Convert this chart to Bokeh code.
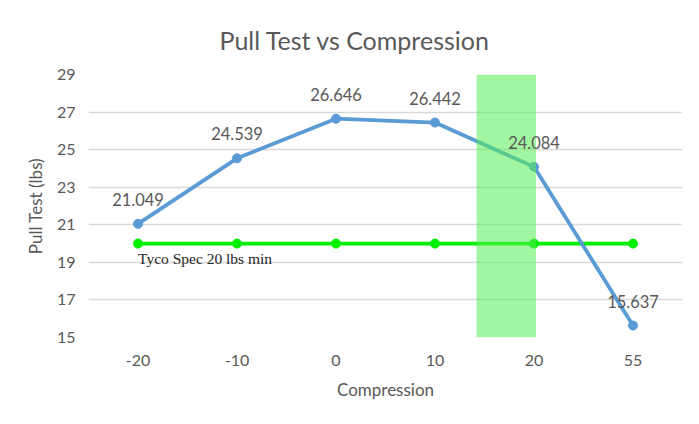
from bokeh.plotting import figure
from bokeh.models import ColumnDataSource, FixedTicker, LabelSet, Label, BoxAnnotation
from bokeh.embed import file_html
from bokeh.resources import INLINE
from bokeh.core.properties import value

categories = ["-20", "-10", "0", "10", "20", "55"]
pull_test = [21.049, 24.539, 26.646, 26.442, 24.084, 15.637]
spec_min = [20, 20, 20, 20, 20, 20]
y_ticks = [15, 17, 19, 21, 23, 25, 27, 29]
band_left = 3.42
band_right = 4.02

FONT = "Lato"
GRAY = "#595959"

xs = list(range(len(categories)))
src = ColumnDataSource(dict(x=xs, y=pull_test, spec=spec_min,
                            lbl=[f"{v:.3f}" for v in pull_test]))

p = figure(output_backend="svg", toolbar_location=None,
           x_range=(-0.5, len(categories) - 0.5), y_range=(15, 29),
           frame_width=594, frame_height=263,
           min_border_left=88, min_border_right=1, min_border_top=74, min_border_bottom=71)

p.title.text = "Pull Test vs Compression"
p.title.align = "left"
p.title.offset = 131
p.title.vertical_align = "middle"
p.title.text_font = FONT
p.title.text_font_size = "25px"
p.title.text_font_style = "normal"
p.title.text_color = GRAY
p.title.standoff = 37

p.line("x", "spec", source=src, line_color="#00ee00", line_width=3.8)
p.scatter("x", "spec", source=src, size=9, fill_color="#00ee00", line_color="#00ee00")
p.line("x", "y", source=src, line_color="#5b9bd5", line_width=3.8)
p.scatter("x", "y", source=src, size=9, fill_color="#5b9bd5", line_color="#5b9bd5")

p.add_layout(BoxAnnotation(left=band_left, right=band_right, bottom=15, top=29,
                           fill_color="#55ee55", fill_alpha=0.55, line_color=None))

p.add_layout(LabelSet(x="x", y="y", text="lbl", source=src, y_offset=18,
                      text_align="center", text_baseline="bottom",
                      text_font=value(FONT), text_font_size="16.5px", text_color=GRAY))

p.add_layout(Label(x=0, y=spec_min[0], text="Tyco Spec 20 lbs min", y_offset=-6,
                   text_align="left", text_baseline="top",
                   text_font="Liberation Serif", text_font_size="15.5px", text_color="#262626"))

p.xaxis.ticker = FixedTicker(ticks=xs)
p.xaxis.major_label_overrides = {i: c for i, c in enumerate(categories)}
p.yaxis.ticker = FixedTicker(ticks=y_ticks)
p.xaxis.axis_label = "Compression"
p.yaxis.axis_label = "Pull Test (lbs)"
for ax in (p.xaxis, p.yaxis):
    ax.axis_line_color = None
    ax.major_tick_line_color = None
    ax.minor_tick_line_color = None
    ax.major_label_text_font = FONT
    ax.major_label_text_font_size = "16px"
    ax.major_label_text_color = GRAY
    ax.axis_label_text_font = FONT
    ax.axis_label_text_font_size = "17px"
    ax.axis_label_text_font_style = "normal"
    ax.axis_label_text_color = GRAY
p.xaxis.major_label_standoff = 11
p.yaxis.major_label_standoff = 7
p.xaxis.axis_label_standoff = 10
p.yaxis.axis_label_standoff = 8

p.xgrid.grid_line_color = None
p.ygrid.grid_line_color = "#d9d9d9"
p.ygrid.grid_line_width = 1.3
p.outline_line_color = None
p.background_fill_color = "white"
p.border_fill_color = "white"

open("out.html", "w").write(file_html(p, INLINE))
